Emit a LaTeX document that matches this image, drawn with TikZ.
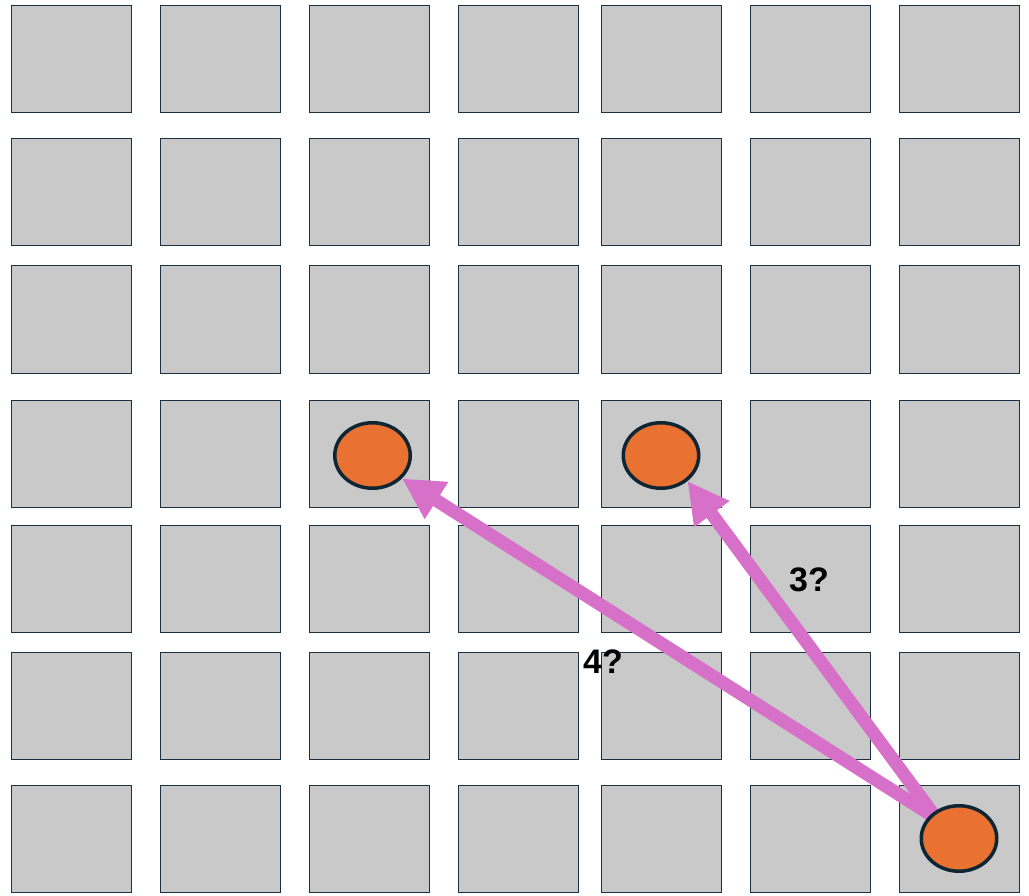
\documentclass[tikz,border=0pt]{standalone}
\usepackage{fontspec}
\setmainfont{Liberation Sans}
\usetikzlibrary{arrows.meta,shapes.geometric}
\definecolor{cellgray}{HTML}{C9C9C9}
\definecolor{celledge}{HTML}{1B3142}
\definecolor{dotfill}{HTML}{E97132}
\definecolor{dotedge}{HTML}{0E2534}
\definecolor{arrowpink}{HTML}{D670C9}
\pgfdeclarelayer{fg}
\pgfsetlayers{main,fg}
\tikzset{
  cell/.style={rectangle, draw=celledge, fill=cellgray, line width=1pt,
    minimum width=120pt, minimum height=107pt, inner sep=0pt, outer sep=0pt},
  dot/.style={ellipse, draw=dotedge, fill=dotfill, line width=3.5pt,
    minimum width=75.5pt, minimum height=65.5pt, inner sep=0pt},
  pinkarrow/.style={draw=arrowpink, line width=13pt,
    -{Triangle[length=41pt,width=41pt]}, shorten <=-6pt},
  lbl/.style={font=\fontsize{34pt}{36pt}\selectfont\bfseries, inner sep=0pt, text=black}
}
\begin{document}
\begin{tikzpicture}[x=1pt,y=-1pt]
\useasboundingbox (0,0) rectangle (1029,896);
\fill[white] (0,0) rectangle (1029,896);
\foreach \cx [count=\c] in {11,160,309,458,601,750,899}{
  \foreach \ry [count=\r] in {6,139,266,400,525,652,785}{
    \node[cell] (s\r\c) at (\cx+60.5,\ry+53.5) {};
  }
}
\begin{pgfonlayer}{fg}
\node[dot] (c1) at (372.5,455.5) {};
\node[dot] (c2) at (661,455.5) {};
\node[dot] (c3) at (959,838.5) {};
\end{pgfonlayer}
\draw[pinkarrow] (c3.140) -- (c1.-38);
\draw[pinkarrow] (c3.136) -- (c2.-44);
\node[lbl] (l4) at (603,662) {4?};
\node[lbl] (l3) at (809,580) {3?};
\end{tikzpicture}
\end{document}
